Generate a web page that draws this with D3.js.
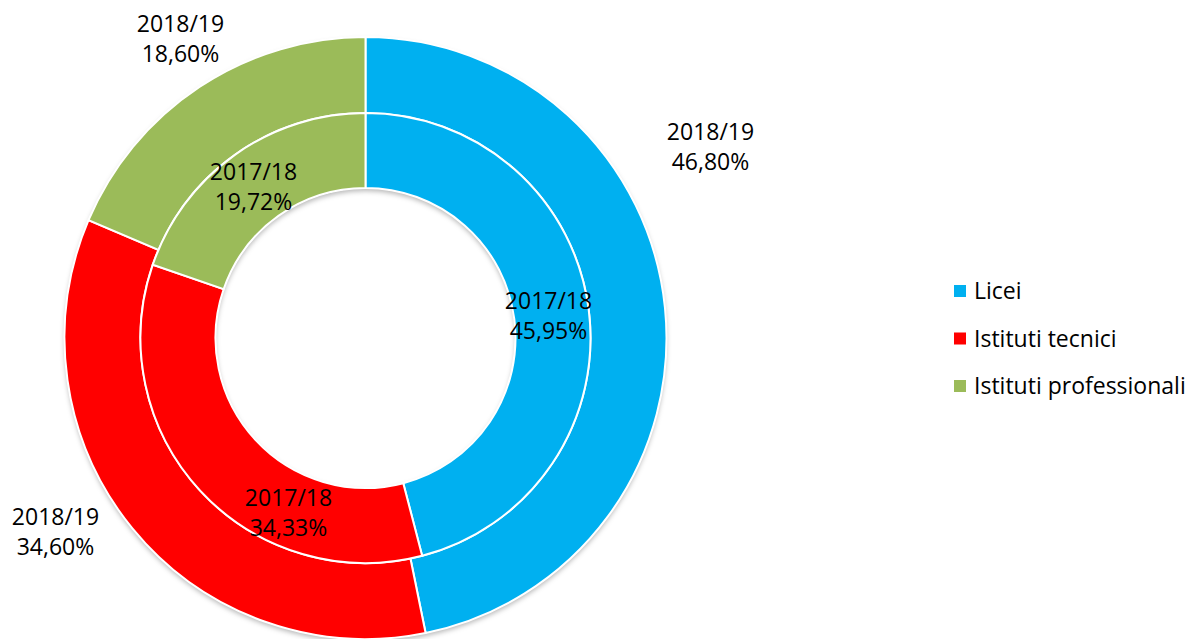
<!DOCTYPE html>
<html>
<head>
<meta charset="utf-8">
<script src="https://cdn.jsdelivr.net/npm/d3@7"></script>
<style>
  body { margin: 0; background: #fff; }
  svg { display: block; }
</style>
</head>
<body>
<div class="canvas"></div>
<script>
const width = 1191
const height = 639

// data
const categories = ['Licei', 'Istituti tecnici', 'Istituti professionali']
const colors = ['#00b0f0', '#ff0000', '#9bbb59']
const years = ['2017/18', '2018/19']
const values1718 = [45.95, 34.33, 19.72]
const values1819 = [46.80, 34.60, 18.60]

// layout
const cx = 365.5
const cy = 338
const rHole = 150
const rMid = 225
const rOuter = 301
const fontFam = "'Open Sans', sans-serif"
const fontSize = 23
const lineH = 29.5

// label offsets from centre (Excel best-fit positions)
const labelOffsets = {
  '2017/18': [[183, -22], [-77, 175], [-112, -151]],
  '2018/19': [[345, -191], [-310, 194], [-185, -299]]
}

const svg = d3.select('.canvas')
  .append('svg')
  .attr('width', width)
  .attr('height', height)

const defs = svg.append('defs')
const shadow = defs.append('filter')
  .attr('id', 'shadow')
  .attr('x', '-20%').attr('y', '-20%')
  .attr('width', '140%').attr('height', '140%')
shadow.append('feDropShadow')
  .attr('dx', 0)
  .attr('dy', 3)
  .attr('stdDeviation', 2.5)
  .attr('flood-color', '#000')
  .attr('flood-opacity', 0.28)

const pie = d3.pie().sort(null).value(d => d)

const rings = [
  { year: years[1], values: values1819, r0: rMid, r1: rOuter },
  { year: years[0], values: values1718, r0: rHole, r1: rMid }
]

const graph = svg.append('g')
  .attr('transform', `translate(${cx}, ${cy})`)

// shadow layer under rings
graph.append('g')
  .attr('filter', 'url(#shadow)')
  .append('path')
  .attr('d', d3.arc()({ innerRadius: rHole, outerRadius: rOuter, startAngle: 0, endAngle: 2 * Math.PI }))
  .attr('fill', '#fff')

rings.forEach(ring => {
  const arc = d3.arc().innerRadius(ring.r0).outerRadius(ring.r1)
  graph.append('g')
    .selectAll('path')
    .data(pie(ring.values))
    .enter()
    .append('path')
    .attr('d', arc)
    .attr('fill', (d, i) => colors[i])
    .attr('stroke', '#fff')
    .attr('stroke-width', 2)
})

// labels
rings.forEach(ring => {
  const offs = labelOffsets[ring.year]
  const t = graph.append('g')
    .selectAll('text')
    .data(ring.values)
    .enter()
    .append('text')
    .attr('font-family', fontFam)
    .attr('font-size', fontSize)
    .attr('fill', '#000')
    .attr('text-anchor', 'middle')
    .attr('transform', (d, i) => `translate(${offs[i][0]}, ${offs[i][1]})`)
  t.append('tspan')
    .attr('x', 0)
    .attr('y', -lineH / 2 + 8)
    .text(ring.year)
  t.append('tspan')
    .attr('x', 0)
    .attr('y', lineH / 2 + 8)
    .text(d => d.toFixed(2).replace('.', ',') + '%')
})

// legend
const legend = svg.append('g')
  .attr('transform', 'translate(954, 291)')

const items = legend.selectAll('g')
  .data(categories)
  .enter()
  .append('g')
  .attr('transform', (d, i) => `translate(0, ${i * 47.5})`)

items.append('rect')
  .attr('x', 0)
  .attr('y', -6)
  .attr('width', 12)
  .attr('height', 12)
  .attr('fill', (d, i) => colors[i])

items.append('text')
  .attr('x', 20)
  .attr('y', 8)
  .attr('font-family', fontFam)
  .attr('font-size', fontSize)
  .attr('fill', '#000')
  .text(d => d)
</script>
</body>
</html>
